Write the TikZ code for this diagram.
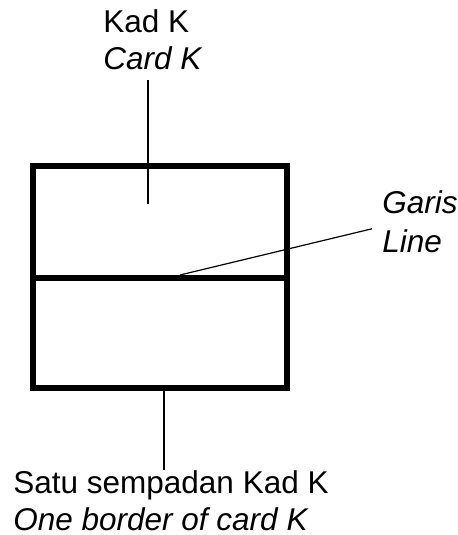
\documentclass[tikz,border=0pt]{standalone}
\usepackage{fontspec}
\setmainfont{Liberation Sans}
\usepackage{tikz}

\tikzset{
    cardline/.style={line width=3pt},
    pointer/.style={line width=0.6pt},
    lbl/.style={inner sep=0pt, anchor=base west, font=\fontsize{15.75}{18.5}\selectfont}
}

\begin{document}
\begin{tikzpicture}[x=0.5pt, y=-0.5pt]
        \useasboundingbox (0,0) rectangle (458,535);
        % card K with its line
        \coordinate (nw) at (33,166);
        \coordinate (se) at (287,388);
        \draw[cardline] (nw) rectangle (se);
        \draw[cardline] (33,278) coordinate (lw) -- (287,278) coordinate (le);
        % labels
        \node[lbl] (kad) at (103,33) {Kad K};
        \node[lbl] (card) at (103,70) {\itshape Card K};
        \node[lbl] (garis) at (382,213) {\itshape Garis};
        \node[lbl] (line) at (382,252) {\itshape Line};
        \node[lbl] (satu) at (13,493) {Satu sempadan Kad K};
        \node[lbl] (border) at (13,530) {\itshape One border of card K};
        % pointers
        \coordinate (kin) at (148,204);
        \coordinate (gin) at (180,275);
        \coordinate (bin) at (164,390);
        \draw[pointer] (card.south -| kin) ++(0,9) -- (kin);
        \draw[pointer] (gin) -- ([xshift=-5pt]line.north west);
        \draw[pointer] (bin) -- (satu.north -| bin);
    \end{tikzpicture}
\end{document}
